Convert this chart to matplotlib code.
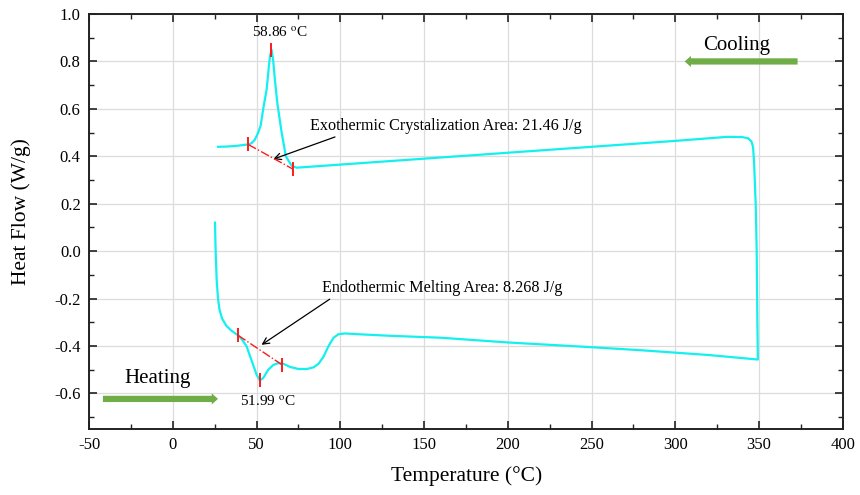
import matplotlib.pyplot as plt
from matplotlib.ticker import MultipleLocator

plt.rcParams["font.family"] = ["Liberation Serif", "DejaVu Serif"]
plt.rcParams["mathtext.fontset"] = "stix"
plt.rcParams["axes.unicode_minus"] = False

# heating run (lower curve) then the jump at 350 and cooling run (upper curve)
temp = [25.2, 25.6, 26.2, 27.0, 28.0, 29.5, 32.0, 35.0, 39.0, 41.0, 44.0, 47.0,
        50.0, 52.0, 54.0, 57.0, 60.0, 63.0, 66.0, 70.0, 75.0, 80.0, 84.0, 87.0,
        90.0, 93.0, 96.0, 99.0, 103.0, 110.0, 130.0, 160.0, 200.0, 250.0, 280.0,
        320.0, 349.3,
        349.0, 348.6, 348.0, 347.0, 346.4, 345.5, 343.5, 340.0, 331.0, 300.0,
        250.0, 200.0, 150.0, 100.0, 80.0, 74.0, 71.0, 67.5, 65.0, 62.5, 61.0,
        60.0, 59.0, 58.0, 57.4, 56.0, 54.0, 52.5, 51.0, 49.0, 47.0, 45.0, 38.0,
        32.0, 27.0]
heat_flow = [0.12, 0.0, -0.12, -0.2, -0.25, -0.285, -0.315, -0.335, -0.355,
             -0.37, -0.40, -0.46, -0.52, -0.545, -0.535, -0.50, -0.48, -0.472,
             -0.475, -0.488, -0.497, -0.497, -0.49, -0.475, -0.445, -0.40,
             -0.365, -0.35, -0.347, -0.35, -0.357, -0.365, -0.385, -0.405,
             -0.418, -0.438, -0.457,
             -0.3, 0.0, 0.2, 0.38, 0.44, 0.462, 0.476, 0.481, 0.482, 0.465,
             0.44, 0.415, 0.39, 0.365, 0.355, 0.352, 0.36, 0.40, 0.50, 0.62,
             0.72, 0.80, 0.85, 0.82, 0.78, 0.68, 0.60, 0.53, 0.50, 0.47, 0.455,
             0.45, 0.444, 0.441, 0.44]

# integration limits / peak markers
cryst_x = [45.0, 72.0]
cryst_y = [0.45, 0.345]
cryst_peak = (58.86, 0.85)
melt_x = [39.0, 65.0]
melt_y = [-0.355, -0.478]
melt_peak = (51.99, -0.545)

fig, ax = plt.subplots(figsize=(8.6, 4.95), dpi=100)
fig.subplots_adjust(left=0.1035, right=0.980, bottom=0.1333, top=0.9717)

ax.plot(temp, heat_flow, color="#14f0f0", lw=1.6, zorder=3)

red = "#ff1a1a"
ax.plot(cryst_x, cryst_y, color=red, lw=1, ls="-.", zorder=4)
ax.plot(melt_x, melt_y, color=red, lw=1, ls="-.", zorder=4)
ax.plot(cryst_x + [cryst_peak[0]], cryst_y + [cryst_peak[1]], ls="none",
        marker="|", ms=10, mew=1.4, color=red, zorder=5)
ax.plot(melt_x + [melt_peak[0]], melt_y + [melt_peak[1]], ls="none",
        marker="|", ms=10, mew=1.4, color=red, zorder=5)

ax.text(64, 0.92, r"58.86 $^{\rm o}$C", fontsize=11, ha="center", va="center")
ax.text(56.5, -0.635, r"51.99 $^{\rm o}$C", fontsize=11, ha="center", va="center")

ax.annotate("Exothermic Crystalization Area: 21.46 J/g", xy=(60, 0.388),
            xytext=(82, 0.527), fontsize=11.6, va="center",
            arrowprops=dict(arrowstyle="->", color="black", lw=0.9,
                            shrinkA=0, shrinkB=0,
                            relpos=(0.12, 0.0)))
ax.annotate("Endothermic Melting Area: 8.268 J/g", xy=(53, -0.395),
            xytext=(89, -0.157), fontsize=11.6, va="center",
            arrowprops=dict(arrowstyle="->", color="black", lw=0.9,
                            shrinkA=0, shrinkB=0,
                            relpos=(0.05, 0.0)))

green = "#70ad47"
big_arrow = dict(arrowstyle="simple,head_length=0.45,head_width=0.8,tail_width=0.45",
                 fc=green, ec="none", mutation_scale=10, shrinkA=0, shrinkB=0)
ax.annotate("", xy=(305.6, 0.80), xytext=(373, 0.80), arrowprops=big_arrow)
ax.text(336.5, 0.866, "Cooling", fontsize=15, ha="center", va="center")
ax.annotate("", xy=(27, -0.623), xytext=(-41.7, -0.623), arrowprops=big_arrow)
ax.text(-9, -0.535, "Heating", fontsize=15, ha="center", va="center")

ax.set_xlim(-50, 400)
ax.set_ylim(-0.75, 1.0)
ax.xaxis.set_major_locator(MultipleLocator(50))
ax.xaxis.set_minor_locator(MultipleLocator(25))
ax.yaxis.set_major_locator(MultipleLocator(0.2))
ax.yaxis.set_minor_locator(MultipleLocator(0.1))
ax.yaxis.set_major_formatter(plt.FuncFormatter(lambda v, p: f"{v:.1f}"))
ax.tick_params(which="both", direction="in", top=True, right=True,
               labelsize=12, color="#222222")
ax.tick_params(which="major", length=6, width=1.2)
ax.tick_params(axis="x", which="major", pad=6)
ax.tick_params(axis="y", which="major", pad=6)
ax.tick_params(which="minor", length=3.5, width=1.0)
ax.grid(True, which="major", color="#dcdcdc", lw=0.9, zorder=0)
for s in ax.spines.values():
    s.set_linewidth(1.4)
    s.set_color("#222222")

ax.set_xlabel("Temperature (°C)", fontsize=15.5)
ax.set_ylabel("Heat Flow (W/g)", fontsize=15.5)
ax.xaxis.set_label_coords(0.501, -0.089)
ax.yaxis.set_label_coords(-0.077, 0.523)

fig.savefig("out.png")
